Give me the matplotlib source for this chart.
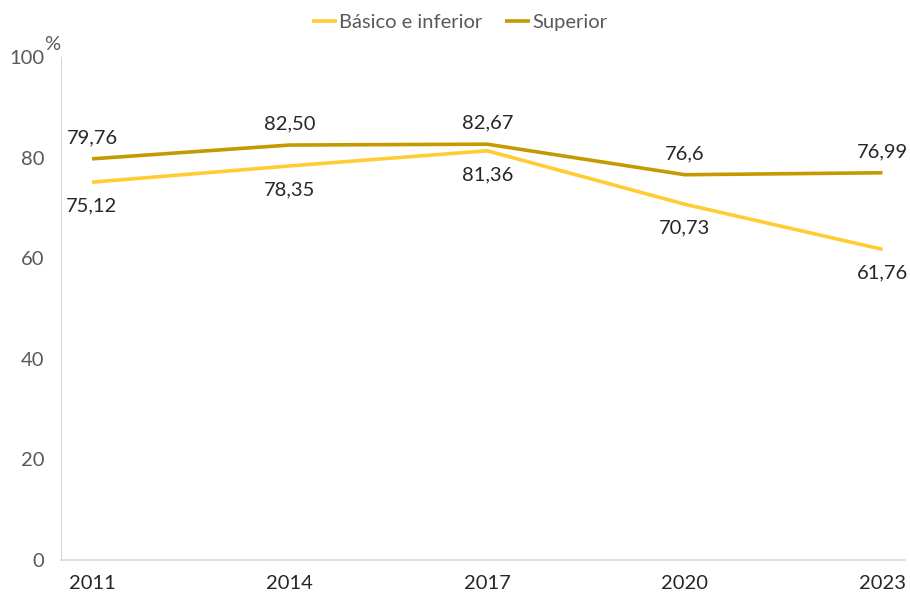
import matplotlib
matplotlib.use('Agg')
import matplotlib.pyplot as plt

years = ['2011', '2014', '2017', '2020', '2023']
basico = [75.12, 78.35, 81.36, 70.73, 61.76]
superior = [79.76, 82.50, 82.67, 76.6, 76.99]
basico_labels = ['75,12', '78,35', '81,36', '70,73', '61,76']
superior_labels = ['79,76', '82,50', '82,67', '76,6', '76,99']

c_basico = '#FFCC33'
c_superior = '#C49A00'
grey = '#595959'
fs = 14.5

plt.rcParams['font.family'] = ['Lato', 'DejaVu Sans']

fig = plt.figure(figsize=(9.1, 5.94), dpi=100)
ax = fig.add_axes([0.067, 0.0572, 0.928, 0.8468])

x = list(range(len(years)))
ax.plot(x, basico, color=c_basico, lw=2.6, label='Básico e inferior', solid_capstyle='butt')
ax.plot(x, superior, color=c_superior, lw=2.6, label='Superior', solid_capstyle='butt')

for xi, v, s in zip(x, basico, basico_labels):
    ax.annotate(s, (xi, v), xytext=(0, -17), textcoords='offset points',
                ha='center', va='center', fontsize=fs, color='#262626')
for xi, v, s in zip(x, superior, superior_labels):
    ax.annotate(s, (xi, v), xytext=(0, 15), textcoords='offset points',
                ha='center', va='center', fontsize=fs, color='#262626')

ax.set_xlim(-0.157, 4.116)
ax.set_ylim(0, 100)
ax.set_xticks(x)
ax.set_xticklabels(years)
ax.set_yticks([0, 20, 40, 60, 80, 100])
ax.tick_params(axis='both', length=0, labelsize=fs, colors=grey)
ax.tick_params(axis='x', pad=11, labelcolor='#262626')
ax.tick_params(axis='y', pad=12)

for side in ['top', 'right']:
    ax.spines[side].set_visible(False)
ax.spines['left'].set_color('#D9D9D9')
ax.spines['bottom'].set_color('#D9D9D9')
ax.spines['bottom'].set_linewidth(1.2)

fig.text(0.057, 0.925, '%', fontsize=fs, color=grey, ha='center', va='center')

fig.legend(loc='center', bbox_to_anchor=(0.505, 0.962), ncol=2, frameon=False,
           fontsize=fs, handlelength=1.25, handletextpad=0.12, columnspacing=1.1,
           labelcolor=grey)

fig.savefig('out.png', dpi=100)
